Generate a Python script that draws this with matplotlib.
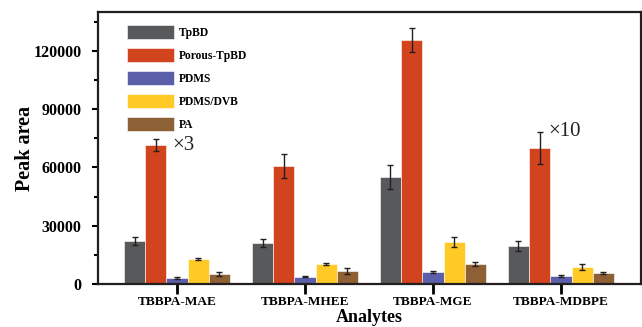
import numpy as np
import matplotlib
matplotlib.use("Agg")
import matplotlib.pyplot as plt
from matplotlib.ticker import MultipleLocator

plt.rcParams['font.family'] = ['Liberation Serif', 'DejaVu Serif']

# ---- données ----
analytes = ["TBBPA-MAE", "TBBPA-MHEE", "TBBPA-MGE", "TBBPA-MDBPE"]
materials = ["TpBD", "Porous-TpBD", "PDMS", "PDMS/DVB", "PA"]
colors = ["#58595b", "#d2441e", "#5b5ea8", "#ffc926", "#8e6036"]

tpbd = [22100, 21100, 55000, 19500]
porous_tpbd = [71500, 60700, 125500, 70100]
pdms = [3200, 3750, 6200, 4100]
pdms_dvb = [13000, 10450, 21600, 8750]
pa = [5150, 6700, 10300, 5650]

tpbd_err = [2000, 1900, 6200, 2500]
porous_tpbd_err = [3300, 6000, 6200, 8200]
pdms_err = [600, 300, 300, 500]
pdms_dvb_err = [600, 500, 2400, 1300]
pa_err = [1200, 1600, 900, 700]

annot_labels = ["×3", "×10"]
annot_groups = [0, 3]

series = [tpbd, porous_tpbd, pdms, pdms_dvb, pa]
errors = [tpbd_err, porous_tpbd_err, pdms_err, pdms_dvb_err, pa_err]

fig = plt.figure(figsize=(6.42, 3.27), dpi=100)
ax = fig.add_axes([0.1527, 0.1315, 0.8457, 0.8318])

x = np.arange(len(analytes))
w = 0.166
for i, (vals, errs) in enumerate(zip(series, errors)):
    ax.bar(x + (i - 2) * w, vals, width=w, color=colors[i], edgecolor="white",
           linewidth=0.4, label=materials[i],
           yerr=errs, error_kw=dict(ecolor="#231f20", elinewidth=1.0, capsize=2.5, capthick=1.0))

# annotations ×3 / ×10 à côté des barres Porous-TpBD
ax.text(x[annot_groups[0]] - 0.04, porous_tpbd[0], annot_labels[0],
        fontsize=15, va="center", ha="left", color="#231f20")
ax.text(x[annot_groups[1]] - 0.1, porous_tpbd[3] + 8300, annot_labels[1],
        fontsize=15, va="center", ha="left", color="#231f20")

ax.set_xlim(-0.617, 3.625)
ax.set_ylim(0, 140000)
ax.yaxis.set_major_locator(MultipleLocator(30000))
ax.yaxis.set_minor_locator(MultipleLocator(15000))
ax.set_xticks(x)
ax.set_xticklabels(analytes, fontsize=9.5, fontweight="bold")
for lab in ax.get_yticklabels():
    lab.set_fontweight("bold")
    lab.set_fontsize(11.5)

ax.tick_params(axis="y", which="major", direction="out", length=4, width=1.5, pad=8)
ax.tick_params(axis="y", which="minor", direction="out", length=3, width=1.5)
ax.tick_params(axis="x", direction="out", length=7, width=2, pad=1.5)

for sp in ax.spines.values():
    sp.set_linewidth(1.6)
    sp.set_color("#231f20")

ax.set_ylabel("Peak area", fontsize=14.5, fontweight="bold")
ax.yaxis.set_label_coords(-0.117, 0.5)
ax.set_xlabel("Analytes", fontsize=13, fontweight="bold")
ax.xaxis.set_label_coords(0.5, -0.125)
ax.xaxis.label.set_va("center")

ax.legend(loc="upper left", bbox_to_anchor=(0.035, 0.99), frameon=False,
          prop=dict(weight="bold", size=8.3), handlelength=4.0, handleheight=1.5,
          labelspacing=0.78, handletextpad=0.45)

fig.savefig("out.png", dpi=100)
